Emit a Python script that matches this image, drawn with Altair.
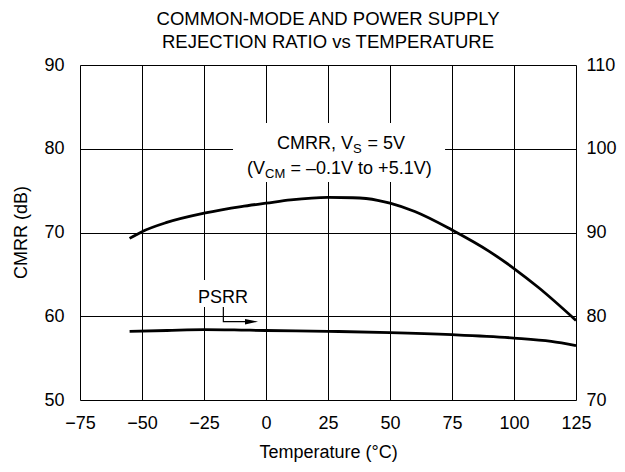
import altair as alt
import pandas as pd

# ---------------- data ----------------
title_lines = ["COMMON-MODE AND POWER SUPPLY", "REJECTION RATIO vs TEMPERATURE"]
x_ticks = [-75, -50, -25, 0, 25, 50, 75, 100, 125]
cmrr_ticks = [50, 60, 70, 80, 90]
psrr_ticks = [70, 80, 90, 100, 110]

cmrr_temp = [-55, -50, -40, -25, -10, 0, 10, 25, 35, 45, 50, 60, 75, 90, 100, 110, 125]
cmrr_db = [69.3, 70.1, 71.2, 72.3, 73.1, 73.5, 73.9, 74.2, 74.15, 73.85, 73.5, 72.5, 70.3, 67.75, 65.7, 63.4, 59.5]

psrr_temp = [-55, -40, -25, -10, 0, 25, 50, 75, 100, 115, 125]
psrr_db = [78.2, 78.3, 78.4, 78.35, 78.3, 78.2, 78.05, 77.8, 77.4, 77.0, 76.5]

# annotation text pieces (x = left edge in °C, y = baseline in dB of left axis)
note_text = ["CMRR, V", "S", "= 5V", "(V", "CM", "= \u20130.1V to +5.1V)", "PSRR"]
note_x = [4.4, 35.1, 40.9, -7.7, -0.4, 9.9, -27.4]
note_y = [79.93, 79.49, 79.93, 76.95, 76.5, 76.95, 61.6]
note_size = [18, 13, 18, 18, 13, 18, 18]

# white boxes behind annotations
box_x = [-13.3, -28.2]
box_x2 = [72.2, -5.6]
box_y = [83.07, 64.33]
box_y2 = [76.03, 61.1]

# PSRR arrow path
arrow_x = [-17.2, -17.2, -6.0]
arrow_y = [61.1, 59.35, 59.35]
arrow_head_x = [-5.85]
arrow_head_y = [59.35]

FONT = "Liberation Sans"

cmrr_df = pd.DataFrame({"t": cmrr_temp, "v": cmrr_db})
psrr_df = pd.DataFrame({"t": psrr_temp, "v": psrr_db})
note_df = pd.DataFrame({"t": note_x, "v": note_y, "txt": note_text, "sz": note_size})
box_df = pd.DataFrame({"t": box_x, "t2": box_x2, "v": box_y, "v2": box_y2})
arrow_df = pd.DataFrame({"t": arrow_x, "v": arrow_y, "o": list(range(len(arrow_x)))})
head_df = pd.DataFrame({"t": arrow_head_x, "v": arrow_head_y})

x_scale = alt.Scale(domain=[-75, 125], nice=False, zero=False)
yl_scale = alt.Scale(domain=[50, 90], nice=False, zero=False)
yr_scale = alt.Scale(domain=[70, 110], nice=False, zero=False)

x_axis = alt.Axis(
    values=x_ticks, grid=True, gridColor="black", gridWidth=1, gridOpacity=1,
    ticks=False, domain=False, labelFontSize=18, labelFont=FONT, labelColor="black",
    labelPadding=14, labelFlush=False, title="Temperature (\u00b0C)", titleFont=FONT,
    titleFontSize=18, titleFontWeight="normal", titleColor="black",
    titleX=248, titleY=57, titleBaseline="alphabetic", titleAlign="center",
)
yl_axis = alt.Axis(
    values=cmrr_ticks, grid=True, gridColor="black", gridWidth=1, gridOpacity=1,
    ticks=False, domain=False, labelFontSize=18, labelFont=FONT, labelColor="black",
    labelPadding=16, labelFlush=False, title="CMRR (dB)", titleFont=FONT,
    titleFontSize=18, titleFontWeight="normal", titleColor="black",
    titleX=-54, titleY=167, titleAngle=-90, titleBaseline="alphabetic", titleAlign="center",
)
yr_axis = alt.Axis(
    values=psrr_ticks, grid=False, ticks=False, domain=False, orient="right",
    labelFontSize=18, labelFont=FONT, labelColor="black", labelPadding=10,
    labelFlush=False, title="",
)

X = alt.X("t:Q", scale=x_scale, axis=x_axis)
YL = alt.Y("v:Q", scale=yl_scale, axis=yl_axis)

boxes = alt.Chart(box_df).mark_rect(fill="white", stroke=None).encode(
    x=X, x2="t2:Q", y=YL, y2="v2:Q"
)
cmrr_line = alt.Chart(cmrr_df).mark_line(color="black", strokeWidth=2.8, interpolate="monotone").encode(
    x=X, y=YL
)
notes = alt.Chart(note_df).mark_text(align="left", baseline="alphabetic", font=FONT, color="black").encode(
    x=X, y=YL, text="txt:N", size=alt.Size("sz:Q", scale=None, legend=None)
)
arrow = alt.Chart(arrow_df).mark_line(color="black", strokeWidth=1.2).encode(
    x=X, y=YL, order="o:Q"
)
head = alt.Chart(head_df).mark_point(
    shape="M-1,-0.42L1,0L-1,0.42Z", size=169, filled=True, color="black", opacity=1
).encode(x=X, y=YL)

left = alt.layer(boxes, cmrr_line, arrow, head, notes)

right = alt.Chart(psrr_df).mark_line(color="black", strokeWidth=2.8, interpolate="monotone").encode(
    x=X, y=alt.Y("v:Q", scale=yr_scale, axis=yr_axis)
)

chart = alt.layer(left, right).resolve_scale(y="independent").properties(
    width=496, height=335,
    title=alt.TitleParams(
        text=title_lines, font=FONT, fontSize=18.5, fontWeight="normal", color="black",
        anchor="middle", lineHeight=23, offset=5,
    ),
    autosize=alt.AutoSizeParams(type="none"),
    padding={"left": 72, "top": 57, "right": 41, "bottom": 64},
).configure_view(stroke="black", strokeWidth=3).configure(background="white")

chart.save("out.html", embed_options={"renderer": "svg", "actions": False})
